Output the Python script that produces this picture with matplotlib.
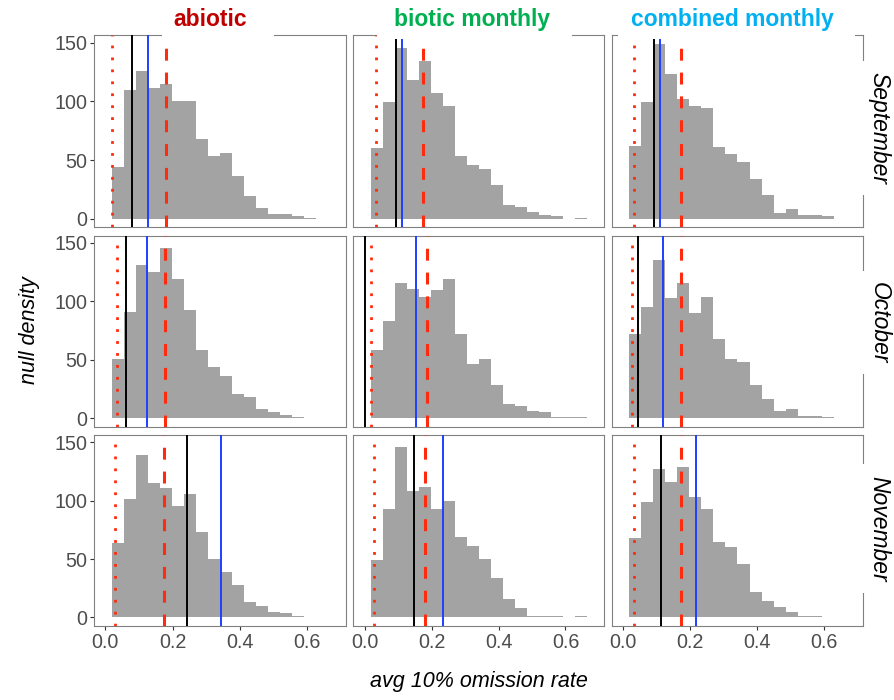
import numpy as np
import matplotlib
matplotlib.use("Agg")
import matplotlib.pyplot as plt
from matplotlib.patches import Rectangle

plt.rcParams["font.family"] = ["Liberation Sans", "DejaVu Sans"]

# ---- data ------------------------------------------------------------------
MODELS = ["abiotic", "biotic monthly", "combined monthly"]
MODEL_COLORS = ["#C00000", "#00B050", "#00B0F0"]
MONTHS = ["September", "October", "November"]

# shared histogram bin edges (avg 10% omission rate)
BIN_EDGES = [0.0188, 0.0546, 0.0904, 0.1262, 0.1620, 0.1978, 0.2336, 0.2694,
             0.3052, 0.3410, 0.3768, 0.4126, 0.4484, 0.4842, 0.5200, 0.5558,
             0.5916, 0.6274, 0.6632]

# null counts per bin, one list per panel
sep_abiotic = [44, 110, 126, 111, 115, 100, 100, 68, 53, 56, 36, 19, 9, 4, 4, 2, 1]
sep_biotic = [60, 99, 145, 118, 134, 107, 96, 53, 46, 42, 29, 12, 10, 6, 3, 2, 0, 1]
sep_combined = [62, 99, 149, 123, 102, 96, 94, 61, 55, 48, 34, 20, 5, 8, 3, 3, 2]
oct_abiotic = [51, 91, 131, 125, 146, 119, 93, 58, 44, 36, 21, 18, 8, 5, 3, 1]
oct_biotic = [58, 83, 116, 111, 104, 110, 119, 72, 46, 51, 28, 12, 10, 6, 5, 1, 1, 1]
oct_combined = [72, 95, 135, 103, 116, 90, 104, 68, 51, 48, 28, 16, 6, 8, 2, 2, 1]
nov_abiotic = [64, 101, 139, 115, 111, 95, 106, 73, 50, 39, 28, 13, 10, 5, 4, 1]
nov_biotic = [49, 93, 146, 108, 112, 93, 100, 69, 61, 50, 34, 16, 8, 1, 1, 1, 0, 1]
nov_combined = [68, 99, 127, 116, 129, 103, 93, 65, 60, 46, 22, 14, 9, 5, 1, 1]

COUNTS = [[sep_abiotic, sep_biotic, sep_combined],
          [oct_abiotic, oct_biotic, oct_combined],
          [nov_abiotic, nov_biotic, nov_combined]]

# reference lines per panel (rows = months, cols = models)
null_low = [[0.021, 0.033, 0.031], [0.033, 0.018, 0.026], [0.028, 0.028, 0.031]]
null_high = [[0.181, 0.174, 0.172], [0.176, 0.187, 0.172], [0.173, 0.181, 0.173]]
obs_black = [[0.078, 0.094, 0.0935], [0.060, 0.0, 0.044], [0.242, 0.148, 0.112]]
obs_blue = [[0.126, 0.111, 0.110], [0.125, 0.152, 0.120], [0.345, 0.235, 0.217]]

XTICKS = [0.0, 0.2, 0.4, 0.6]
XTICKLABELS = ["0.0", "0.2", "0.4", "0.6"]
YTICKS = [0, 50, 100, 150]

# ---- layout (pixels) --------------------------------------------------------
W, H = 895, 700
COL_X = [(94, 346), (353.3, 604.3), (611.7, 863.3)]
ROW_Y = [(35.3, 227.3), (235.7, 426.7), (435, 626)]
RED = "#FF2B0F"
BLUE = "#1E40FF"
BORDER = "#808080"


def rect(x0, x1, y0, y1):
    return [x0 / W, 1 - y1 / H, (x1 - x0) / W, (y1 - y0) / H]


fig = plt.figure(figsize=(W / 100, H / 100), dpi=100)

for i in range(3):
    for j in range(3):
        ax = fig.add_axes(rect(*COL_X[j], *ROW_Y[i]))
        counts = COUNTS[i][j]
        ax.stairs(counts, BIN_EDGES[:len(counts) + 1], fill=True,
                  color="#A3A3A3", lw=0, zorder=1)
        ax.axvline(null_low[i][j], color=RED, lw=2.0, ls=(0, (1, 3.3)), zorder=3)
        ax.axvline(null_high[i][j], color=RED, lw=2.2, ls=(0, (3.9, 3.9)), zorder=3)
        ax.axvline(obs_black[i][j], color="black", lw=1.4, zorder=4)
        ax.axvline(obs_blue[i][j], color=BLUE, lw=1.4, zorder=4)

        ax.set_xlim(-0.034, 0.716)
        ax.set_ylim(-7.3, 156.2)
        ax.set_xticks(XTICKS)
        ax.set_xticklabels(XTICKLABELS)
        ax.set_yticks(YTICKS)
        for s in ax.spines.values():
            s.set_color(BORDER)
            s.set_linewidth(0.8)
        ax.tick_params(length=3, width=0.8, color="#333333", pad=2,
                       labelsize=14.2, labelcolor="#4D4D4D")
        ax.tick_params(left=(j == 0), labelleft=(j == 0),
                       bottom=(i == 2), labelbottom=(i == 2))

# strip labels sit on a white box that breaks the panel border
TOP_TEXT_X = [210, 472, 732]
TOP_GAP = [(162, 274), (377, 572), (618, 855)]
RIGHT_TEXT_Y = [128, 323, 529]
RIGHT_GAP = [(61, 195), (271, 374), (464, 593)]

for j in range(3):
    g0, g1 = TOP_GAP[j]
    fig.add_artist(Rectangle((g0 / W, 1 - 39 / H), (g1 - g0) / W, 8 / H,
                             transform=fig.transFigure, facecolor="white",
                             edgecolor="none", zorder=10))
    fig.text(TOP_TEXT_X[j] / W, 1 - 26 / H, MODELS[j], ha="center",
             va="baseline", fontsize=16.5, fontweight="bold",
             color=MODEL_COLORS[j], zorder=11)

for i in range(3):
    g0, g1 = RIGHT_GAP[i]
    fig.add_artist(Rectangle((859 / W, 1 - g1 / H), 9 / W, (g1 - g0) / H,
                             transform=fig.transFigure, facecolor="white",
                             edgecolor="none", zorder=10))
    fig.text(879 / W, 1 - RIGHT_TEXT_Y[i] / H, MONTHS[i], ha="center",
             va="center", rotation=-90, fontsize=16.5, fontstyle="italic",
             color="black", zorder=11)

fig.text(30 / W, 1 - 330.5 / H, "null density", rotation=90, ha="center",
         va="center", fontsize=15.5, fontstyle="italic")
fig.text(479 / W, 1 - 682 / H, "avg 10% omission rate", ha="center",
         va="center", fontsize=15.5, fontstyle="italic")

fig.savefig("out.png", dpi=100)
